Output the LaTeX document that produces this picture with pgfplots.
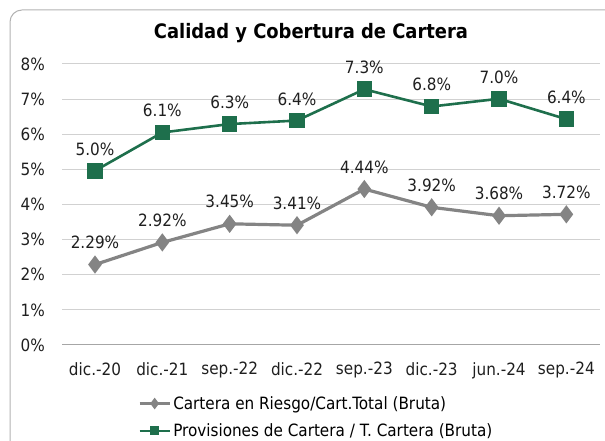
\documentclass[border=0pt]{standalone}
\usepackage{fontspec}
\setmainfont{DejaVu Sans Condensed}
\usepackage{pgfplots}
\pgfplotsset{compat=1.18}
\definecolor{grn}{HTML}{1E6F4C}
\definecolor{gry}{HTML}{848484}
\begin{document}
\begin{tikzpicture}[x=1bp,y=1bp]
\useasboundingbox (0,0) rectangle (605,441);
\begin{scope}
\clip (0,0) rectangle (605,441);
\draw[black!30, line width=1bp, rounded corners=12bp] (10,-30) rectangle (640,431);
\end{scope}
\node[font=\bfseries\fontsize{20}{24}\selectfont] at (311,408) {Calidad y Cobertura de Cartera};
\begin{axis}[at={(62bp,96bp)}, anchor=south west, scale only axis,
  width=538bp, height=281bp,
  xmin=-0.49, xmax=7.5, ymin=0, ymax=8,
  ytick={0,1,...,8},
  yticklabels={0\%,1\%,2\%,3\%,4\%,5\%,6\%,7\%,8\%},
  xtick={0,...,7},
  xticklabels={dic.-20,dic.-21,sep.-22,dic.-22,sep.-23,dic.-23,jun.-24,sep.-24},
  axis x line*=bottom, axis y line*=left,
  y axis line style={draw=none},
  x axis line style={black!35, line width=1bp},
  major tick length=0pt,
  ymajorgrids, grid style={black!18, line width=1bp},
  ticklabel style={font=\fontsize{17}{20}\selectfont, text=black!88},
  yticklabel style={inner sep=0pt, xshift=-17bp},
  xticklabel style={inner sep=0pt, yshift=-17bp},
  clip=false,
  nodes near coords,
  point meta=explicit symbolic,
  nodes near coords style={font=\fontsize{17}{20}\selectfont, text=black!88, inner sep=0pt, anchor=south, yshift=14bp},
  legend style={at={(0.141,-0.175)}, anchor=north west, draw=none, fill=none,
    font=\fontsize{17}{20}\selectfont, row sep=9bp, inner sep=0pt,
    /tikz/every even column/.append style={column sep=1bp}},
  legend cell align=left,
  legend image code/.code={\draw[#1, mark repeat=2, mark phase=2, mark size=3.2bp] plot coordinates {(0bp,0bp) (15bp,0bp) (30bp,0bp)};},
]
\addplot[gry, line width=3.2bp, mark=diamond*, mark size=6.5bp] coordinates {
 (0,2.29)[2.29\%] (1,2.92)[2.92\%] (2,3.45)[3.45\%] (3,3.41)[3.41\%]
 (4,4.44)[4.44\%] (5,3.92)[3.92\%] (6,3.68)[3.68\%] (7,3.72)[3.72\%]};
\addlegendentry{Cartera en Riesgo/Cart.Total (Bruta)}
\addplot[grn, line width=2.6bp, mark=square*, mark size=6.5bp] coordinates {
 (0,4.96)[5.0\%] (1,6.05)[6.1\%] (2,6.29)[6.3\%] (3,6.39)[6.4\%]
 (4,7.28)[7.3\%] (5,6.79)[6.8\%] (6,7.01)[7.0\%] (7,6.43)[6.4\%]};
\addlegendentry{Provisiones de Cartera / T. Cartera (Bruta)}
\end{axis}
\end{tikzpicture}
\end{document}
